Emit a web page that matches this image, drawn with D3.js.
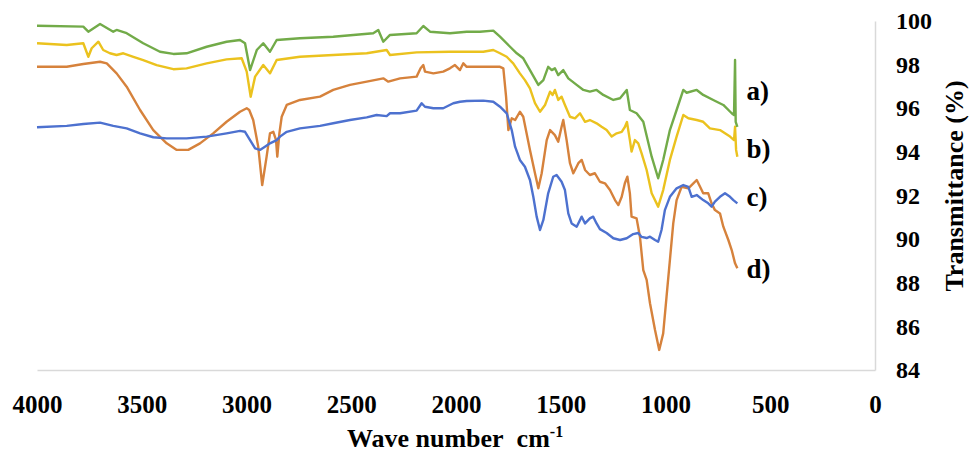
<!DOCTYPE html>
<html>
<head>
<meta charset="utf-8">
<script src="https://cdn.jsdelivr.net/npm/d3@7"></script>
<style>
  body { margin: 0; background: #fff; }
  svg text { font-family: "Liberation Serif", "Times New Roman", serif; font-weight: bold; fill: #000; }
</style>
</head>
<body>
<div id="chart"></div>
<script>
// FTIR spectra: [wave number (cm-1), transmittance (%)]
const seriesA = [[4000,99.78],[3779,99.74],[3755,99.51],[3699,99.86],[3636,99.51],[3620,99.59],[3572,99.44],[3493,98.98],[3413,98.59],[3349,98.49],[3286,98.52],[3190,98.82],[3095,99.05],[3031,99.13],[3007,98.98],[2983,97.75],[2951,98.67],[2920,98.98],[2888,98.59],[2856,99.13],[2745,99.21],[2586,99.28],[2395,99.44],[2371,99.59],[2347,99.05],[2315,99.36],[2188,99.44],[2156,99.77],[2124,99.51],[2029,99.44],[1949,99.51],[1886,99.51],[1822,99.56],[1790,99.28],[1742,98.82],[1710,98.52],[1679,98.29],[1647,97.75],[1607,97.07],[1583,97.29],[1560,97.90],[1543,97.75],[1528,97.83],[1512,97.52],[1488,97.75],[1464,97.37],[1424,97.07],[1392,96.84],[1361,96.76],[1329,96.84],[1297,96.61],[1249,96.38],[1217,96.46],[1185,96.84],[1170,95.92],[1138,95.77],[1106,95.38],[1066,93.78],[1035,92.79],[1011,93.63],[979,95.00],[947,95.92],[915,96.84],[899,96.71],[851,96.84],[820,96.61],[772,96.38],[724,96.15],[684,95.77],[673,95.69],[668,98.21],[665,95.38],[657,95.15]];

const seriesB = [[4000,98.98],[3858,98.90],[3779,98.98],[3755,98.36],[3739,98.75],[3707,99.05],[3684,98.67],[3652,98.52],[3620,98.44],[3588,98.52],[3540,98.36],[3493,98.21],[3429,97.98],[3349,97.79],[3286,97.83],[3190,98.06],[3095,98.24],[3023,98.29],[2999,97.68],[2980,96.53],[2959,97.45],[2920,97.98],[2888,97.60],[2856,98.21],[2745,98.36],[2586,98.44],[2426,98.52],[2331,98.67],[2315,98.44],[2188,98.56],[2029,98.59],[1870,98.59],[1822,98.67],[1790,98.52],[1758,98.36],[1727,98.06],[1695,97.60],[1671,97.29],[1647,96.91],[1623,96.23],[1599,95.84],[1575,96.15],[1551,96.76],[1539,96.61],[1528,96.84],[1512,96.38],[1496,96.53],[1480,96.15],[1456,95.61],[1432,95.54],[1408,95.77],[1384,95.38],[1361,95.46],[1329,95.31],[1305,95.15],[1281,95.00],[1257,94.70],[1233,94.85],[1209,94.92],[1194,95.14],[1184,95.37],[1170,94.54],[1162,94.01],[1146,94.54],[1130,94.39],[1114,93.93],[1090,93.17],[1066,92.10],[1035,91.49],[1011,92.25],[979,93.63],[947,94.70],[915,95.69],[891,95.54],[851,95.46],[820,95.38],[788,95.08],[740,95.00],[692,94.70],[673,94.54],[668,95.15],[663,94.09],[657,93.78]];

const seriesC = [[4000,95.13],[3858,95.19],[3779,95.28],[3699,95.34],[3636,95.19],[3572,95.08],[3508,94.85],[3445,94.67],[3381,94.62],[3286,94.62],[3190,94.70],[3095,94.85],[3031,94.96],[3007,94.92],[2983,94.54],[2959,94.16],[2936,94.09],[2912,94.24],[2888,94.39],[2856,94.54],[2840,94.70],[2808,94.92],[2745,95.08],[2649,95.19],[2586,95.31],[2506,95.46],[2426,95.58],[2379,95.69],[2331,95.64],[2315,95.77],[2267,95.77],[2188,95.89],[2164,96.23],[2148,96.07],[2108,96.00],[2061,96.00],[2013,96.23],[1981,96.30],[1949,96.33],[1870,96.35],[1822,96.30],[1790,96.07],[1758,95.77],[1734,95.00],[1718,94.24],[1695,93.63],[1671,93.32],[1647,92.71],[1631,91.94],[1615,91.03],[1599,90.42],[1583,90.88],[1560,92.10],[1536,92.86],[1520,92.94],[1496,92.63],[1480,92.25],[1464,91.18],[1448,90.72],[1424,90.57],[1400,91.03],[1384,90.72],[1361,90.95],[1345,91.03],[1329,90.72],[1313,90.46],[1281,90.28],[1249,90.04],[1217,89.96],[1185,90.04],[1154,90.23],[1130,90.28],[1114,90.10],[1090,90.05],[1074,90.11],[1050,89.96],[1035,89.88],[1019,90.42],[1003,91.33],[979,91.94],[947,92.33],[915,92.48],[891,92.40],[875,91.94],[851,92.02],[820,91.79],[796,91.64],[780,91.49],[764,91.72],[740,91.94],[716,92.10],[692,91.94],[676,91.79],[657,91.64]];

const seriesD = [[4000,97.90],[3858,97.90],[3779,98.03],[3699,98.13],[3667,98.06],[3620,97.60],[3572,96.99],[3508,95.92],[3445,95.00],[3381,94.39],[3333,94.09],[3278,94.09],[3222,94.39],[3159,94.85],[3095,95.38],[3031,95.84],[2999,96.00],[2987,95.92],[2968,95.46],[2944,94.24],[2925,92.48],[2904,93.78],[2888,94.85],[2872,94.92],[2859,94.54],[2853,93.78],[2843,94.85],[2832,95.61],[2808,96.15],[2745,96.38],[2649,96.53],[2586,96.84],[2506,97.07],[2426,97.22],[2347,97.37],[2323,97.22],[2267,97.37],[2188,97.45],[2169,97.83],[2156,97.98],[2148,97.68],[2108,97.60],[2061,97.68],[2029,97.83],[2005,97.98],[1981,97.75],[1965,98.06],[1949,97.90],[1790,97.90],[1774,97.83],[1761,96.53],[1750,95.00],[1734,95.54],[1718,95.46],[1695,95.84],[1679,95.61],[1647,94.09],[1623,93.02],[1607,92.33],[1591,93.02],[1567,94.54],[1551,95.00],[1528,94.77],[1512,94.47],[1496,95.15],[1488,95.46],[1472,94.54],[1456,93.48],[1440,93.02],[1416,93.48],[1400,93.63],[1384,93.17],[1361,92.94],[1337,93.02],[1313,92.63],[1289,92.56],[1265,92.25],[1241,91.79],[1225,91.56],[1209,91.94],[1194,92.56],[1182,92.86],[1170,92.10],[1162,91.03],[1138,90.95],[1122,90.11],[1106,88.58],[1090,88.13],[1074,87.06],[1050,85.83],[1030,84.92],[1011,85.68],[995,87.36],[979,89.04],[963,90.72],[947,91.79],[923,92.40],[891,92.33],[867,92.56],[851,92.71],[835,92.40],[820,92.10],[796,92.10],[780,91.64],[764,91.33],[740,91.18],[724,90.57],[700,89.96],[684,89.50],[668,88.89],[657,88.66]];

const seriesNames = ["a)", "b)", "c)", "d)"];
const seriesColors = ["#72ab49", "#ebc21e", "#4d71cf", "#d6823c"];
// where the a)..d) labels sit, in data units
const labelWave = 613;
const labelValues = [96.4, 93.7, 91.5, 88.2];

const xTicks = [4000, 3500, 3000, 2500, 2000, 1500, 1000, 500, 0];
const yTicks = [84, 86, 88, 90, 92, 94, 96, 98, 100];

const width = 971;
const height = 455;

const svg = d3.select("#chart")
  .append("svg")
  .attr("width", width)
  .attr("height", height);

// wave number runs right to left, axis line sits on the right at 0
const x = d3.scaleLinear()
  .domain([4000, 0])
  .range([37, 875]);

const y = d3.scaleLinear()
  .domain([84, 100])
  .range([370, 21]);

// bottom axis
const xAxis = svg.append("g")
  .attr("transform", `translate(0,${y(84)})`)
  .call(d3.axisBottom(x).tickValues(xTicks).tickSize(0).tickPadding(25).tickFormat(d3.format("d")));
xAxis.select(".domain").attr("stroke", "#d9d9d9").attr("stroke-width", 1.5);
xAxis.selectAll("text").style("font-size", "25px");

// right axis
const yAxis = svg.append("g")
  .attr("transform", `translate(${x(0)},0)`)
  .call(d3.axisRight(y).tickValues(yTicks).tickSize(0).tickPadding(21));
yAxis.select(".domain").attr("stroke", "#d9d9d9").attr("stroke-width", 1.5);
yAxis.selectAll("text").style("font-size", "24px");

const line = d3.line()
  .x(d => x(d[0]))
  .y(d => y(d[1]));

const allSeries = [seriesA, seriesB, seriesC, seriesD];

// draw d) first so a) ends up on top
svg.selectAll(".spectrum")
  .data(allSeries.map((d, i) => ({ values: d, color: seriesColors[i] })).reverse())
  .enter()
  .append("path")
  .attr("class", "spectrum")
  .attr("fill", "none")
  .attr("stroke", d => d.color)
  .attr("stroke-width", 2.4)
  .attr("stroke-linejoin", "round")
  .attr("d", d => line(d.values));

svg.selectAll(".series-label")
  .data(seriesNames)
  .enter()
  .append("text")
  .attr("class", "series-label")
  .attr("x", x(labelWave))
  .attr("y", (d, i) => y(labelValues[i]))
  .style("font-size", "27px")
  .text(d => d);

// axis titles
const xTitle = svg.append("text")
  .attr("x", 455)
  .attr("y", 447)
  .attr("text-anchor", "middle")
  .style("font-size", "26px");
xTitle.append("tspan").text("Wave number\u00a0\u00a0cm");
xTitle.append("tspan")
  .attr("dy", -10)
  .style("font-size", "16px")
  .text("-1");

svg.append("text")
  .attr("transform", "translate(963,186) rotate(-90)")
  .attr("text-anchor", "middle")
  .style("font-size", "26px")
  .text("Transmittance (%)");
</script>
</body>
</html>
